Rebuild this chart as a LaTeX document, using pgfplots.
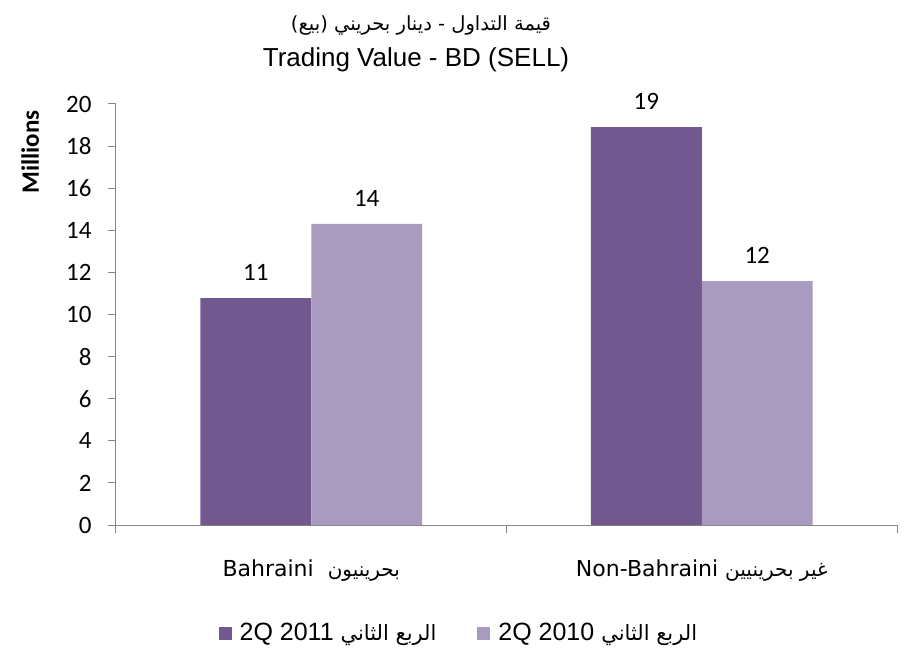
\documentclass[border=0pt]{standalone}
\usepackage{fontspec}
\usepackage{pgfplots}
\pgfplotsset{compat=1.18}
\setmainfont{Liberation Sans}
\newfontfamily\calib{Carlito}
\newfontfamily\arabicfont[Script=Arabic]{DejaVu Sans}
\newfontfamily\dejavu{DejaVu Sans}
\TeXXeTstate=1
\definecolor{dark}{HTML}{71598F}
\definecolor{light}{HTML}{A99BBF}
\definecolor{axgray}{HTML}{868686}
\pgfplotsset{/pgf/number format/assume math mode=true}
\begin{document}
\begin{tikzpicture}
\begin{axis}[
  at={(0,0)}, anchor=south west,
  scale only axis, width=781bp, height=421bp,
  xmin=0, xmax=2, ymin=0, ymax=20,
  ybar=0pt, bar width=0.284,
  axis lines*=left,
  axis line style={axgray, line width=1bp},
  tick style={axgray, line width=1bp},
  tick align=outside,
  major tick length=8bp,
  ytick={0,2,...,20},
  yticklabel style={font=\calib\fontsize{25bp}{30bp}\selectfont, text=black, xshift=-13bp},
  xtick={0,1,2}, xticklabels={},
  extra x ticks={0.5,1.5},
  extra x tick labels={{\dejavu Bahraini\ \ {\arabicfont\fontsize{20bp}{26bp}\selectfont\beginR بحرينيون\endR}},{\dejavu Non-Bahraini {\arabicfont\fontsize{20bp}{26bp}\selectfont\beginR غير بحرينيين\endR}}},
  extra x tick style={major tick length=0pt, tick label style={anchor=center, yshift=-46bp, font=\fontsize{22bp}{26bp}\selectfont, text=black}},
  ylabel={Millions},
  ylabel style={at={(axis description cs:-0.110,0.886)}, anchor=center, font=\calib\bfseries\fontsize{25bp}{30bp}\selectfont},
  nodes near coords={\pgfmathprintnumber[fixed,precision=0]{\pgfplotspointmeta}},
  point meta=y,
  nodes near coords style={font=\calib\fontsize{25bp}{30bp}\selectfont, text=black, anchor=south, inner sep=0pt, yshift=17bp},
  legend style={at={(0.439,-0.2565)}, anchor=center, draw=none, legend columns=2,
    font=\fontsize{25bp}{30bp}\selectfont,
    /tikz/every even column/.append style={column sep=39bp},
    /tikz/every odd column/.append style={column sep=0bp},
    inner sep=0pt},
  legend cell align=left,
]
\addplot[fill=dark, draw=none, legend image code/.code={\fill[dark] (0bp,-7bp) rectangle (13bp,6bp);}] coordinates {(0.5,10.78) (1.5,18.9)};
\addplot[fill=light, draw=none, legend image code/.code={\fill[light] (0bp,-7bp) rectangle (13bp,6bp);}] coordinates {(0.5,14.3) (1.5,11.59)};
\legend{{\hspace{6bp}2Q 2011 {\arabicfont\fontsize{21bp}{26bp}\selectfont\beginR الربع الثاني\endR}},{\hspace{6bp}2Q 2010 {\arabicfont\fontsize{21bp}{26bp}\selectfont\beginR الربع الثاني\endR}}}
\end{axis}
\node[font=\arabicfont\fontsize{19.5bp}{26bp}\selectfont, anchor=center] at (305bp,500bp) {\beginR قيمة التداول - دينار بحريني (بيع)\endR};
\node[font=\fontsize{26bp}{30bp}\selectfont, anchor=center] at (300bp,465bp) {Trading Value - BD (SELL)};
\pgfresetboundingbox
\useasboundingbox (-116bp,-131bp) rectangle (799bp,525bp);
\end{tikzpicture}
\end{document}
